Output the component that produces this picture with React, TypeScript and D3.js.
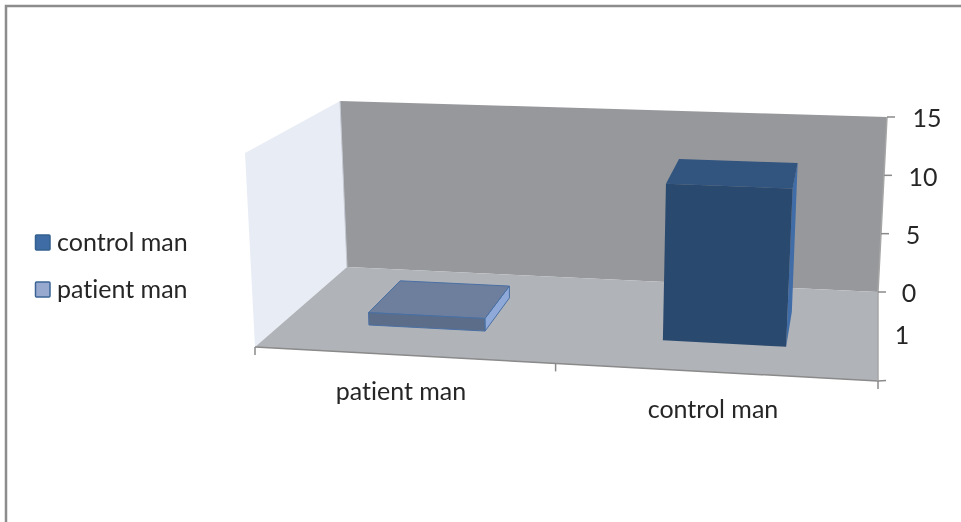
import React from "react";
import * as d3 from "d3";

const categories = ["patient man", "control man"];
const seriesNames = ["control man", "patient man"];
const patientValues = [1];
const controlValues = [12.3];
const valueTicks = [0, 5, 10, 15];
const depthLabels = ["1"];

const FONT = "Lato, 'Open Sans', sans-serif";

// scene corners in pixels (u: across, v: value fraction, w: depth)
const corners: Record<string, [number, number]> = {
  "000": [255, 347],
  "100": [878, 381],
  "010": [245, 153],
  "110": [890, 177],
  "001": [347, 267],
  "101": [878, 292],
  "011": [340, 101],
  "111": [887, 117],
};

const yScale = d3.scaleLinear().domain([0, 15]).range([0, 1]);
const xBand = d3.scaleBand<string>().domain(categories).range([0, 1]).paddingInner(0.6).paddingOuter(0.3);
// slight perspective stretch of the category axis
const xPersp = d3.scaleLinear().domain([0, 0.15, 0.35, 0.65, 0.85, 1]).range([0, 0.141, 0.337, 0.637, 0.845, 1]);
const zScale = d3.scaleLinear().domain([0, 1]).range([0.33, 0.73]);

function project(u: number, v: number, w: number): [number, number] {
  const mix = (i: 0 | 1) => {
    const c = (a: number, b: number, d: number) => corners[`${a}${b}${d}`][i];
    const l = (a: number, b: number, t: number) => a + (b - a) * t;
    const near = l(l(c(0, 0, 0), c(1, 0, 0), u), l(c(0, 1, 0), c(1, 1, 0), u), v);
    const far = l(l(c(0, 0, 1), c(1, 0, 1), u), l(c(0, 1, 1), c(1, 1, 1), u), v);
    return l(near, far, w);
  };
  return [mix(0), mix(1)];
}

const line = d3.line<[number, number]>().x((d) => d[0]).y((d) => d[1]);
const poly = (pts: [number, number][]) => line(pts)! + "Z";

function Bar({ cat, value, colors }: { cat: string; value: number; colors: { front: string; top: string; side: string; stroke: string; sw: number } }) {
  const u0 = xPersp(xBand(cat)!);
  const u1 = xPersp(xBand(cat)! + xBand.bandwidth());
  const w0 = zScale(0);
  const w1 = zScale(1);
  const v = yScale(value);
  const p = (u: number, vv: number, w: number) => project(u, vv, w);
  return (
    <g stroke={colors.stroke} strokeWidth={colors.sw} strokeLinejoin="round">
      <path d={poly([p(u1, 0, w0), p(u1, 0, w1), p(u1, v, w1), p(u1, v, w0)])} fill={colors.side} />
      <path d={poly([p(u0, v, w0), p(u1, v, w0), p(u1, v, w1), p(u0, v, w1)])} fill={colors.top} />
      <path d={poly([p(u0, 0, w0), p(u1, 0, w0), p(u1, v, w0), p(u0, v, w0)])} fill={colors.front} />
    </g>
  );
}

export default function App() {
  const text = { fontFamily: FONT, fontSize: 25, fill: "#262626", style: { fontVariantLigatures: "none" } };
  const catTickU = [0, 0.4825, 1];
  const catLabelPos: [number, number][] = [[401, 394], [713, 412]];
  const legendY = [245, 292];
  const swatchY = [235, 282];
  const valueLabelX: number[] = [909, 913, 923, 927];
  const swatch = [
    { fill: "#3f6ca6", stroke: "#33608f" },
    { fill: "#98a9d0", stroke: "#3a6496" },
  ];
  return (
    <svg width={961} height={522} style={{ position: "absolute", left: 0, top: 0, background: "#fff" }}>
      <defs>
        <filter id="soft" x="-5%" y="-5%" width="110%" height="110%">
          <feGaussianBlur stdDeviation="0.45" />
        </filter>
      </defs>
      <path d="M6,522V6H961" fill="none" stroke="#8c8c8c" strokeWidth={2.5} />
      <g filter="url(#soft)">
        <path d={poly([project(0, 0, 0), project(0, 1, 0), project(0, 1, 1), project(0, 0, 1)])} fill="#e8ecf5" />
        <path d={poly([project(0, 0, 1), project(0, 1, 1), project(1, 1, 1), project(1, 0, 1)])} fill="#97989c" />
        <path d={poly([project(0, 0, 0), project(0, 0, 1), project(1, 0, 1), project(1, 0, 0)])} fill="#b0b3b8" />
        <path d={line([project(0, 1, 1), project(0, 0, 1)])!} stroke="#c5c9d2" fill="none" />
        <path d={line([project(0, 0, 0), project(1, 0, 0)])!} stroke="#8a8a8a" strokeWidth={1.5} fill="none" />
        <path d={line([project(1, 0, 0), project(1, 0, 1), project(1, 1, 1)])!} stroke="#a6a6a6" strokeWidth={1.5} fill="none" />
        {catTickU.map((u) => {
          const [x, y] = project(u, 0, 0);
          return <line key={u} x1={x} y1={y} x2={x} y2={y + 8} stroke="#8a8a8a" strokeWidth={1.5} />;
        })}
        <line x1={878} y1={381} x2={886} y2={380.5} stroke="#8a8a8a" strokeWidth={1.5} />
        {valueTicks.map((t) => {
          const [x, y] = project(1, yScale(t), 1);
          return <line key={t} x1={x} y1={y} x2={x + 8} y2={y} stroke="#8a8a8a" strokeWidth={1.5} />;
        })}
        <Bar cat={categories[0]} value={patientValues[0]} colors={{ front: "#5b6d8a", top: "#6e7f9e", side: "#8fa9d8", stroke: "#4a70a4", sw: 1 }} />
        <Bar cat={categories[1]} value={controlValues[0]} colors={{ front: "#2c4a6e", top: "#31547f", side: "#3f6ca8", stroke: "none", sw: 0 }} />
        {valueTicks.map((t, i) => {
          const [, y] = project(1, yScale(t), 1);
          return (
            <text key={t} x={valueLabelX[i]} y={y + 4} textAnchor="middle" dominantBaseline="middle" {...text}>
              {t}
            </text>
          );
        })}
        <text x={902} y={338} textAnchor="middle" dominantBaseline="middle" {...text}>
          {depthLabels[0]}
        </text>
        {categories.map((c, i) => (
          <text key={c} x={catLabelPos[i][0]} y={catLabelPos[i][1]} textAnchor="middle" dominantBaseline="middle" {...text}>
            {c}
          </text>
        ))}
        {seriesNames.map((s, i) => (
          <g key={s}>
            <rect x={35.5} y={swatchY[i]} width={14.5} height={15} rx={1} fill={swatch[i].fill} stroke={swatch[i].stroke} strokeWidth={1.5} />
            <text x={57} y={legendY[i]} dominantBaseline="middle" {...text}>
              {s}
            </text>
          </g>
        ))}
      </g>
    </svg>
  );
}
